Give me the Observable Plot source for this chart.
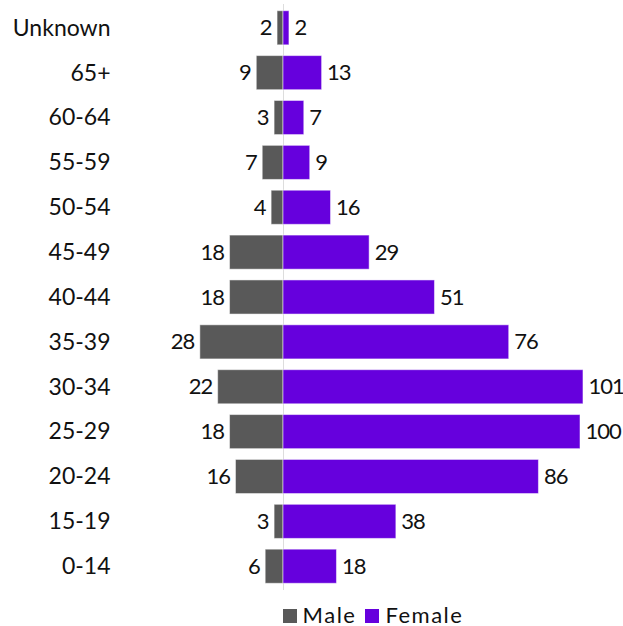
<!DOCTYPE html>
<html>
<head>
<meta charset="utf-8">
<script src="https://cdn.jsdelivr.net/npm/d3@7"></script>
<script src="https://cdn.jsdelivr.net/npm/@observablehq/plot@0.6"></script>
<style>
  html, body { margin: 0; background: #fff; font-family: Lato, "Noto Sans", sans-serif; overflow: hidden; }
  #legend { display: flex; justify-content: center; align-items: center; gap: 9px; height: 32px; box-sizing: border-box;
    padding-left: 123px; padding-top: 9px; font-size: 22px; letter-spacing: 1.5px; color: #111; line-height: 22px; }
  #legend span.sw { display: inline-block; width: 14px; height: 14px; margin-right: 6px; vertical-align: 0px; }
</style>
</head>
<body>
<div id="chart"></div>
<script>
const categories = ["Unknown", "65+", "60-64", "55-59", "50-54", "45-49", "40-44", "35-39", "30-34", "25-29", "20-24", "15-19", "0-14"];
const male   = [2, 9, 3, 7, 4, 18, 18, 28, 22, 18, 16, 3, 6];
const female = [2, 13, 7, 9, 16, 29, 51, 76, 101, 100, 86, 38, 18];
const seriesNames = ["Male", "Female"];
const seriesColors = ["#595959", "#6600dd"];

const rows = categories.map((c, i) => ({age: c, male: male[i], female: female[i]}));

const W = 623, H = 594, ML = 120, MR = 0;
const zeroX = 283, pxPerUnit = 2.97;
const xDomain = [(ML - zeroX) / pxPerUnit, (W - MR - zeroX) / pxPerUnit];
const FS = 23, NFS = 22;

const plot = Plot.plot({
  width: W,
  height: H,
  marginLeft: ML,
  marginRight: MR,
  marginTop: 4,
  marginBottom: 4,
  style: {fontFamily: "Lato, 'Noto Sans', sans-serif", fontSize: FS + "px", color: "#111", background: "#fff", overflow: "visible"},
  x: {domain: xDomain, axis: null},
  y: {domain: categories, paddingInner: 0.24, paddingOuter: 0.15, round: false, label: null, axis: null},
  marks: [
    Plot.axisY({tickSize: 0, tickPadding: 10, fontSize: FS, fill: "#111", label: null}),
    Plot.ruleX([0], {stroke: "#dddddd", strokeWidth: 1}),
    Plot.barX(rows, {y: "age", x1: 0, x2: d => -d.male, fill: seriesColors[0], stroke: "#ffffff", strokeOpacity: 0.5, strokeWidth: 1}),
    Plot.barX(rows, {y: "age", x1: 0, x2: "female", fill: seriesColors[1], stroke: "#ffffff", strokeOpacity: 0.5, strokeWidth: 1}),
    Plot.text(rows, {y: "age", x: d => -d.male, text: d => String(d.male), textAnchor: "end", dx: -6, fontSize: NFS, fill: "#111"}),
    Plot.text(rows, {y: "age", x: "female", text: d => String(d.female), textAnchor: "start", dx: 5, fontSize: NFS, fill: "#111"})
  ]
});
d3.select(plot).selectAll("g[aria-label='text'] text").style("letter-spacing", "-1px");
document.getElementById("chart").appendChild(plot);

const legend = document.createElement("div");
legend.id = "legend";
seriesNames.forEach((n, i) => {
  const item = document.createElement("div");
  const sw = document.createElement("span");
  sw.className = "sw";
  sw.style.background = seriesColors[i];
  item.appendChild(sw);
  item.appendChild(document.createTextNode(n));
  legend.appendChild(item);
});
document.getElementById("chart").appendChild(legend);
</script>
</body>
</html>
